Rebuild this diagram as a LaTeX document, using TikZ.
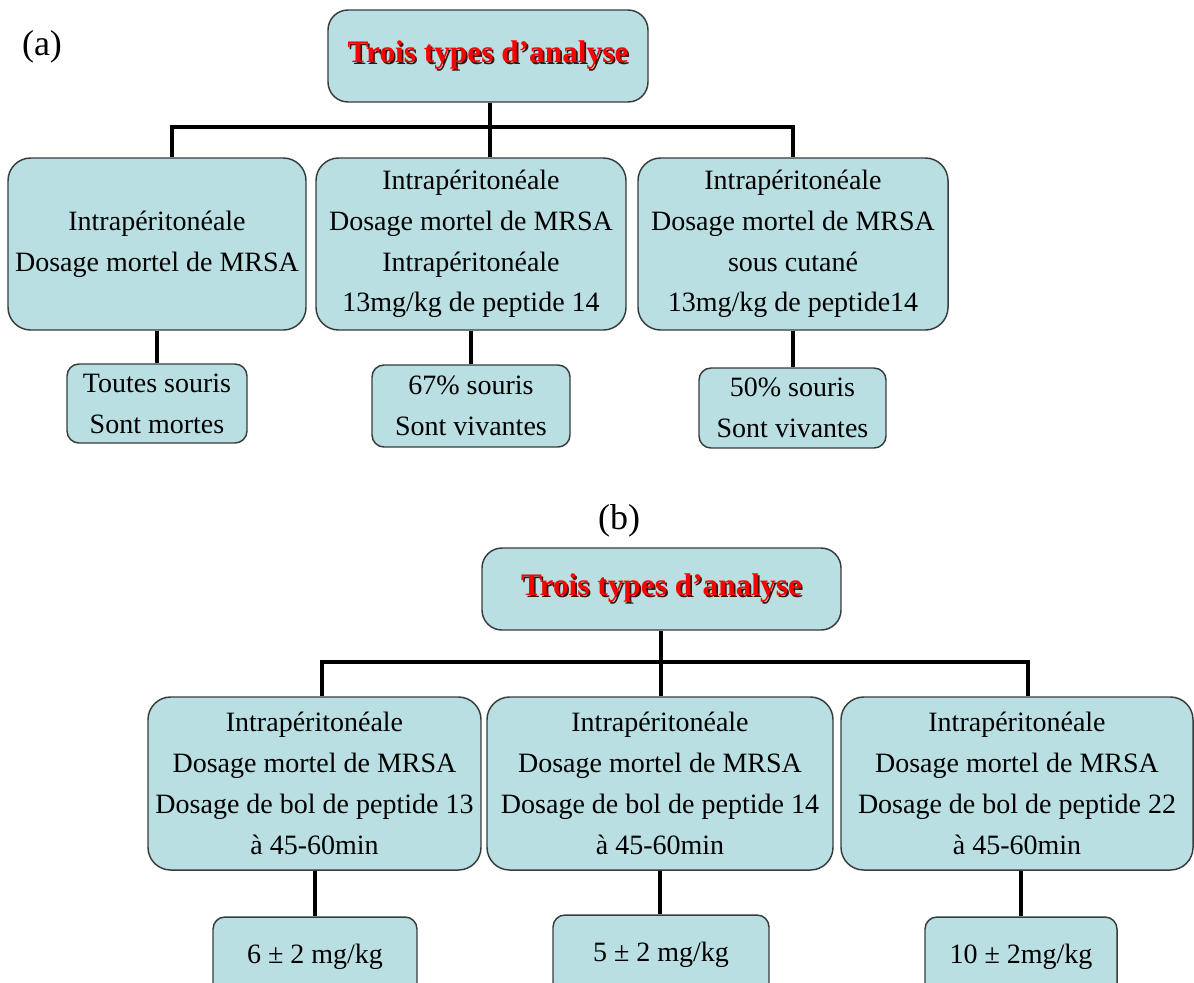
\documentclass[tikz,border=0pt]{standalone}
\usepackage{fontspec}
\setmainfont{Liberation Serif}
\definecolor{boxfill}{RGB}{186,223,227}
\definecolor{bordc}{RGB}{55,60,60}
\definecolor{shadc}{RGB}{60,20,20}
\newcommand{\shadowtitle}[1]{\rlap{\hspace{1.3pt}\raisebox{-1.3pt}{\color{shadc}#1}}{\color{red}#1}}
\tikzset{
  bx/.style={draw=bordc, fill=boxfill, line width=1.1pt, rounded corners=17pt, align=center, inner sep=0pt,
    font=\fontsize{21}{30.6}\selectfont},
  smallbx/.style={bx, rounded corners=9pt},
  titlebx/.style={bx, rounded corners=15pt, font=\fontsize{23.5}{28}\selectfont\bfseries},
  conn/.style={line width=3pt, black},
  lbl/.style={inner sep=0pt, font=\fontsize{27}{30}\selectfont}
}
\begin{document}
\begin{tikzpicture}[x=0.75pt, y=-0.75pt]
\useasboundingbox (0,0) rectangle (1194,982);
\clip (0,0) rectangle (1194,982);
\fill[white] (0,0) rectangle (1194,982);

% ---------- (a) ----------
\node[lbl] (la) at (42,47) {(a)};
\node[titlebx, minimum width={320*0.75pt}, minimum height={92*0.75pt}] (ta) at (488,56) {\shadowtitle{Trois types d’analyse}};
\node[bx, minimum width={298*0.75pt}, minimum height={172*0.75pt}] (a1) at (157,244) {Intrapéritonéale\\Dosage mortel de MRSA};
\node[bx, minimum width={310*0.75pt}, minimum height={172*0.75pt}] (a2) at (471,244) {Intrapéritonéale\\Dosage mortel de MRSA\\Intrapéritonéale\\13mg/kg de peptide 14};
\node[bx, minimum width={310*0.75pt}, minimum height={172*0.75pt}] (a3) at (793,244) {Intrapéritonéale\\Dosage mortel de MRSA\\sous cutané\\13mg/kg de peptide14};
\node[smallbx, minimum width={180*0.75pt}, minimum height={79*0.75pt}] (r1) at (157,403.5) {Toutes souris\\Sont mortes};
\node[smallbx, minimum width={198*0.75pt}, minimum height={82*0.75pt}] (r2) at (471,406) {67\% souris\\Sont vivantes};
\node[smallbx, minimum width={187*0.75pt}, minimum height={80*0.75pt}] (r3) at (792.5,408) {50\% souris\\Sont vivantes};

\coordinate (ja) at (490,127);
\coordinate (lja) at (172,127);
\coordinate (rja) at (793,127);
\draw[conn] (ja |- ta.south) -- (ja |- a2.north);
\draw[conn] (lja |- a1.north) -- (lja) -- (rja) -- (rja |- a3.north);
\draw[conn] (a1.south) -- (r1.north);
\draw[conn] (a2.south) -- (r2.north);
\draw[conn] (a3.south) -- (a3.south |- r3.north);

% ---------- (b) ----------
\node[lbl] (lb) at (619,521) {(b)};
\node[titlebx, minimum width={359*0.75pt}, minimum height={82*0.75pt}] (tb) at (661.5,589) {\shadowtitle{Trois types d’analyse}};
\node[bx, minimum width={333*0.75pt}, minimum height={173*0.75pt}] (b1) at (314.5,783.5) {Intrapéritonéale\\Dosage mortel de MRSA\\Dosage de bol de peptide 13\\à 45-60min};
\node[bx, minimum width={346*0.75pt}, minimum height={173*0.75pt}] (b2) at (660,783.5) {Intrapéritonéale\\Dosage mortel de MRSA\\Dosage de bol de peptide 14\\à 45-60min};
\node[bx, minimum width={352*0.75pt}, minimum height={173*0.75pt}] (b3) at (1017,783.5) {Intrapéritonéale\\Dosage mortel de MRSA\\Dosage de bol de peptide 22\\à 45-60min};
\node[smallbx, minimum width={204*0.75pt}, minimum height={80*0.75pt}] (s1) at (315,957) {6 ± 2 mg/kg};
\node[smallbx, minimum width={216*0.75pt}, minimum height={80*0.75pt}] (s2) at (661,955) {5 ± 2 mg/kg};
\node[smallbx, minimum width={192*0.75pt}, minimum height={80*0.75pt}] (s3) at (1021,957) {10 ± 2mg/kg};

\coordinate (jb) at (661,662);
\coordinate (ljb) at (322,662);
\coordinate (rjb) at (1028,662);
\draw[conn] (jb |- tb.south) -- (jb |- b2.north);
\draw[conn] (ljb |- b1.north) -- (ljb) -- (rjb) -- (rjb |- b3.north);
\draw[conn] (b1.south) -- (b1.south |- s1.north);
\draw[conn] (b2.south) -- (b2.south |- s2.north);
\draw[conn] (s3.north |- b3.south) -- (s3.north);
\end{tikzpicture}
\end{document}
